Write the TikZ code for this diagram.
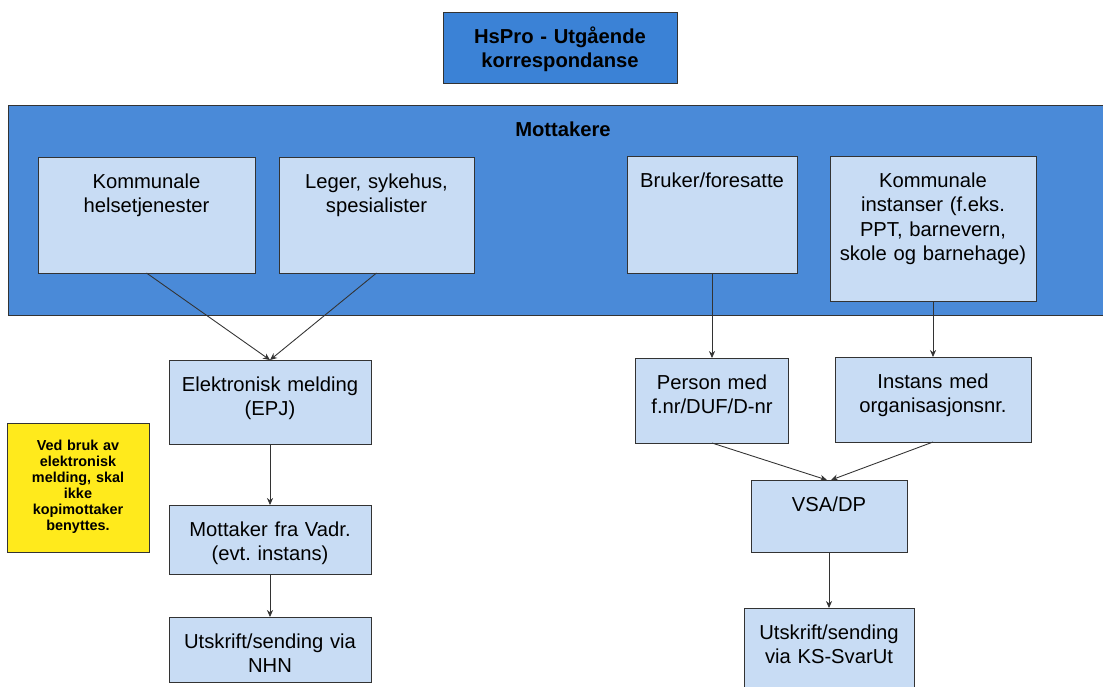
\documentclass[tikz,border=0pt]{standalone}
\usepackage{fontspec}
\setmainfont{Liberation Sans}
\usetikzlibrary{arrows.meta,positioning}
\definecolor{bandblue}{HTML}{4A8AD8}
\definecolor{headblue}{HTML}{3B82D6}
\definecolor{boxfill}{HTML}{C8DCF4}
\definecolor{noteyellow}{HTML}{FFEA1C}
\definecolor{lineclr}{HTML}{333333}
\tikzset{
  x=0.2mm, y=-0.2mm,
  >={Stealth[length=4pt,width=3.5pt]},
  every node/.style={outer sep=0mm,inner sep=0mm,anchor=north west}
}
\tikzset{field/.style 2 args={
    draw=lineclr,
    fill=boxfill,
    text width=#1,
    text height=6.2mm,
    text depth=#2,
    align=center,
    font=\fontsize{11.5}{14}\selectfont
  }}
\tikzset{header/.style={field={#1},fill=headblue,font=\fontsize{11.5}{14}\selectfont\bfseries}}
\tikzset{note/.style={
    draw=lineclr,
    fill=noteyellow,
    text width=28.4mm,
    text height=5.4mm,
    text depth=20.4mm,
    align=center,
    font=\fontsize{8.2}{9.2}\selectfont\bfseries
  }}
\tikzset{link/.style={draw=lineclr,line width=0.5pt,->}}

\begin{document}
\frenchspacing
\begin{tikzpicture}
  \useasboundingbox (0,0) rectangle (1103,686);

  \node (HsPro) [header={46.8mm}{8mm}] at (443,12) {HsPro - Utgående\\korrespondanse};
  \node (Band)  [header={222mm}{35.8mm},fill=bandblue] at (8,105) {Mottakere};

  \node (Komm)   [field={43.4mm}{17mm}]   at (38,157)  {Kommunale\\helsetjenester};
  \node (Leger)  [field={39mm}{17mm}]     at (279,157) {Leger, sykehus,\\spesialister};
  \node (Bruker) [field={34mm}{17.2mm}]   at (627,156) {Bruker/foresatte};
  \node (KInst)  [field={41.2mm}{22.8mm}] at (830,156) {Kommunale\\instanser (f.eks.\\PPT, barnevern,\\skole og barnehage)};

  \node (Elek)  [field={40.4mm}{10.6mm}] at (169,360)            {Elektronisk melding\\(EPJ)};
  \node (Vadr)  [field={40.4mm}{7.6mm},below=12.2mm of Elek]    {Mottaker fra Vadr.\\(evt. instans)};
  \node (NHN)   [field={40.4mm}{6.8mm},below=8.6mm of Vadr]     {Utskrift/sending via\\NHN};
  \node (Note)  [note] at (7,423) {Ved bruk av\\elektronisk\\melding, skal\\ikke\\kopimottaker\\benyttes.};

  \node (Person)  [field={30.6mm}{10.8mm},below=17mm of Bruker]  {Person med\\f.nr/DUF/D-nr};
  \node (Instans) [field={39.2mm}{10.8mm},below=11.2mm of KInst] {Instans med\\organisasjonsnr.};
  \node (VSA)     [field={31.2mm}{8.2mm},anchor=north] at (829,480) {VSA/DP};
  \node (KS)      [field={34mm}{11.8mm},below=11.2mm of VSA]     {Utskrift/sending\\via KS-SvarUt};

  \draw [link] (Komm.south) -- (Elek.north);
  \draw [link] (Leger.south) -- (Elek.north);
  \draw [link] (Elek) -- (Vadr);
  \draw [link] (Vadr) -- (NHN);

  \draw [link] (Bruker.south) -- (Person.north);
  \draw [link] (KInst.south) -- (Instans.north);
  \draw [link] (Person.south) -- ([xshift=-0.4mm] VSA.north);
  \draw [link] (Instans.south) -- ([xshift=0.4mm] VSA.north);
  \draw [link] (VSA) -- (KS);
\end{tikzpicture}
\end{document}
